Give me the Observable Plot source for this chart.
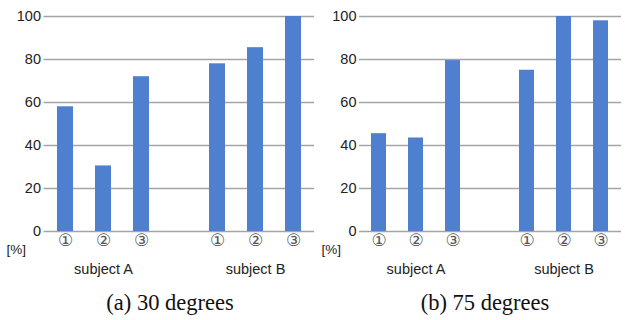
<!DOCTYPE html>
<html><head><meta charset="utf-8">
<script src="https://cdn.jsdelivr.net/npm/d3@7"></script>
<script src="https://cdn.jsdelivr.net/npm/@observablehq/plot@0.6"></script>
<style>
body{margin:0;background:#fff;}
#wrap{display:flex;width:630px;}
.panel{position:relative;width:315px;height:320px;}
.cap{position:absolute;top:290px;left:0;width:340px;text-align:center;font-family:"Liberation Serif","Times New Roman",serif;font-size:22.5px;color:#111;}
</style>
</head><body>
<div id="wrap"><div class="panel" id="p1"></div><div class="panel" id="p2"></div></div>
<script>
const slots = ["A1","A2","A3","gap","B1","B2","B3"];
const tickLabels = {A1:"①",A2:"②",A3:"③",gap:"",B1:"①",B2:"②",B3:"③"};
const categories = ["A1","A2","A3","B1","B2","B3"];
const values30 = [58, 30.5, 72, 78, 85.5, 100];
const values75 = [45.5, 43.5, 79.5, 75, 100, 98];
const groupLabels = [{x:"A2", label:"subject A"}, {x:"B2", label:"subject B"}];
const yTicks = [0,20,40,60,80,100];
const captions = ["(a) 30 degrees", "(b) 75 degrees"];

function panel(values, mL, mR){
  const data = categories.map((c,i)=>({c, v: values[i]}));
  return Plot.plot({
    width: 315, height: 282,
    marginLeft: mL, marginRight: mR, marginTop: 16, marginBottom: 51,
    style: {fontFamily: "'Liberation Sans', Arial, sans-serif", fontSize: "14px", background: "transparent"},
    x: {domain: slots, paddingInner: 0.59, paddingOuter: 0.295, label: null, axis: null},
    y: {domain: [0,100], label: null, axis: null},
    marks: [
      Plot.ruleY(yTicks, {y: d => d, stroke: "#a4a4a4", strokeWidth: 1.3, strokeOpacity: 1}),
      Plot.barY(data, {x: "c", y: "v", fill: "#4f80d0"}),
      Plot.axisY(yTicks, {tickSize: 0, tickPadding: 3, fontSize: 14.5, label: null, fill: "#222"}),
      Plot.axisX(slots, {tickSize: 0, tickPadding: 2, tickFormat: d => tickLabels[d], fontSize: 17, label: null, fill: "#555", fontFamily: "DejaVu Sans, sans-serif"}),
      Plot.text(groupLabels, {x: "x", text: "label", frameAnchor: "bottom", dy: 42, fontSize: 14.5, fill: "#222"}),
      Plot.text(["[%]"], {frameAnchor: "bottom-left", dx: -mL + 6, dy: 22, text: d => d, fontSize: 13.5, fill: "#222"})
    ]
  });
}
const p1 = document.getElementById("p1");
const p2 = document.getElementById("p2");
p1.appendChild(panel(values30, 43.5, 1));
p2.appendChild(panel(values75, 44, 9));
[p1,p2].forEach((p,i)=>{const d=document.createElement("div");d.className="cap";d.textContent=captions[i];p.appendChild(d);});
</script>
</body></html>
